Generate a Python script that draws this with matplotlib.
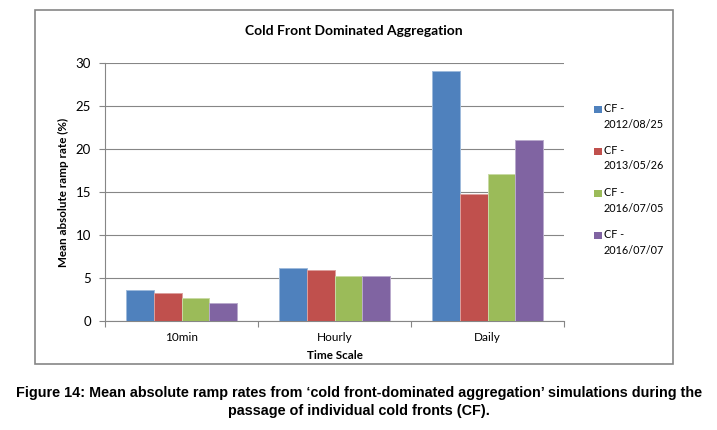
import matplotlib
matplotlib.use("Agg")
import matplotlib.pyplot as plt
from matplotlib.patches import Rectangle
from matplotlib.colors import to_rgb
import numpy as np

# data
categories = ["10min", "Hourly", "Daily"]
series_names = ["CF -\n2012/08/25", "CF -\n2013/05/26", "CF -\n2016/07/05", "CF -\n2016/07/07"]
cf_20120825 = [3.65, 6.15, 29.1]
cf_20130526 = [3.25, 5.95, 14.75]
cf_20160705 = [2.65, 5.25, 17.05]
cf_20160707 = [2.12, 5.22, 21.05]
values = [cf_20120825, cf_20130526, cf_20160705, cf_20160707]
colors = ["#4F81BD", "#C0504D", "#9BBB59", "#8064A2"]

grey = "#868686"
font = "Lato"
plt.rcParams["font.family"] = [font, "DejaVu Sans"]

fig = plt.figure(figsize=(7.17, 4.3), dpi=100)
W, H = 717, 430

def fx(px):
    return px / W

def fy(py):
    return 1 - py / H

# outer chart frame
fig.patches.append(Rectangle((fx(35), fy(364)), fx(673) - fx(35), fy(10) - fy(364),
                             transform=fig.transFigure, fill=False, edgecolor=grey, linewidth=1.2))

ax = fig.add_axes([fx(105), fy(321), fx(564) - fx(105), fy(63) - fy(321)])

x = np.arange(len(categories))
bar_w = 0.182
for i, (vals, c) in enumerate(zip(values, colors)):
    edge = tuple(0.55 * np.array(to_rgb(c)) + 0.45)
    ax.bar(x + (i - 1.5) * bar_w, vals, width=bar_w, color=c, edgecolor=edge, linewidth=0.7, zorder=3)

ax.set_xlim(-0.5, 2.5)
ax.set_ylim(0, 30)
ax.set_yticks(range(0, 31, 5))
ax.yaxis.grid(True, color=grey, linewidth=0.8)
ax.set_axisbelow(True)

ax.set_xticks([-0.5, 0.5, 1.5, 2.5])
ax.set_xticklabels([])
ax.set_xticks(x, minor=True)
ax.set_xticklabels(categories, minor=True)
ax.tick_params(axis="x", which="major", length=4, color=grey, width=0.8, direction="out")
ax.tick_params(axis="x", which="minor", length=0, pad=8, labelsize=8.5)
ax.tick_params(axis="y", length=4, color=grey, width=0.8, pad=6, labelsize=9.5)

for s in ["top", "right"]:
    ax.spines[s].set_visible(False)
for s in ["left", "bottom"]:
    ax.spines[s].set_color(grey)
    ax.spines[s].set_linewidth(0.8)

ax.set_ylabel("Mean absolute ramp rate (%)", fontsize=8.4, fontweight="bold", labelpad=5)
ax.set_xlabel("Time Scale", fontsize=8.4, fontweight="bold", labelpad=5)

fig.text(fx(354), fy(31), "Cold Front Dominated Aggregation", ha="center", va="center",
         fontsize=10, fontweight="bold")

# legend
for i, (name, c) in enumerate(zip(series_names, colors)):
    yc = 109 + 42 * i
    fig.patches.append(Rectangle((fx(594), fy(yc + 3.5)), fx(8), 7 / H,
                                 transform=fig.transFigure, facecolor=c, edgecolor="none"))
    fig.text(fx(604), fy(yc - 6), name, ha="left", va="top", fontsize=7.8, linespacing=1.5)

caption = ("Figure 14: Mean absolute ramp rates from \u2018cold front-dominated aggregation\u2019 simulations during the\n"
           "passage of individual cold fronts (CF).")
fig.text(fx(359), fy(402), caption, ha="center", va="center", fontsize=10.4, fontweight="bold",
         family=["Liberation Sans", "DejaVu Sans"], linespacing=1.3)

fig.savefig("out.png", dpi=100)
